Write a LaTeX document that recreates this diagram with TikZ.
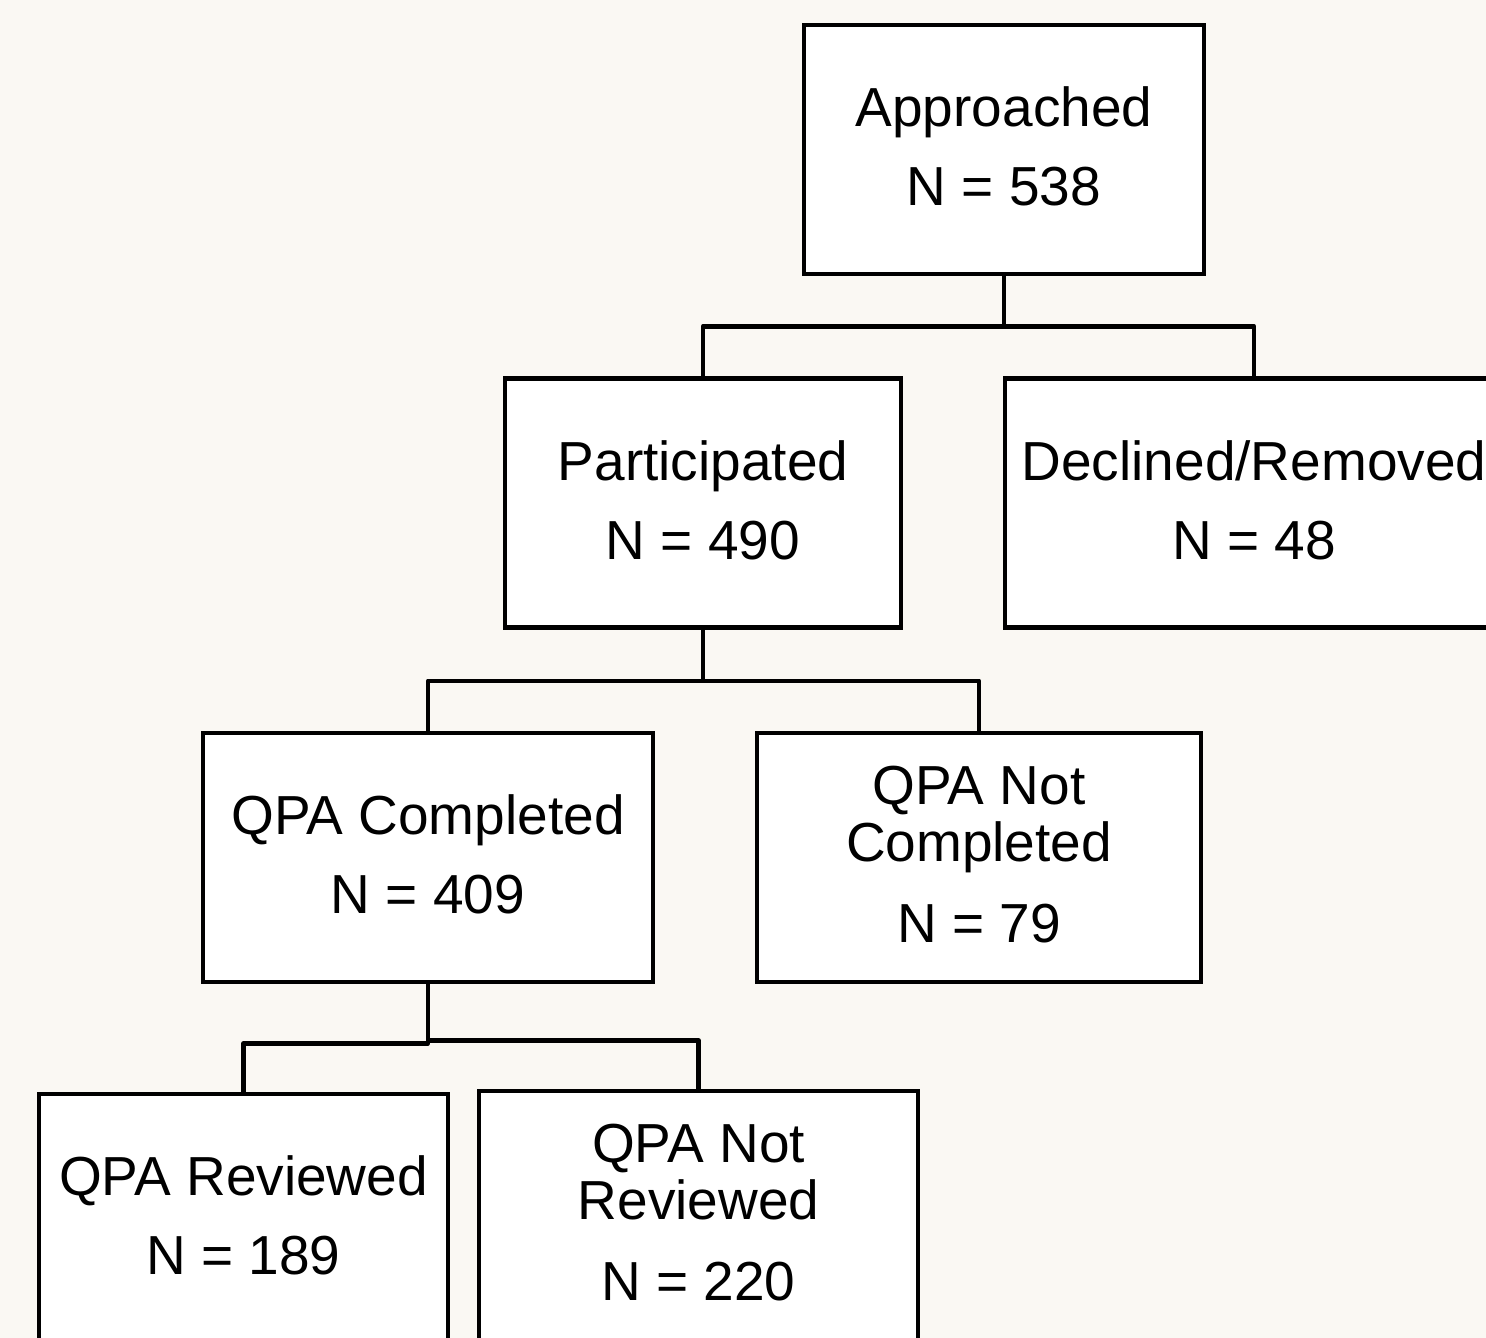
\documentclass[tikz,border=0pt]{standalone}
\usepackage{fontspec}
\setmainfont{Liberation Sans}
\definecolor{bgc}{RGB}{250,248,243}
\begin{document}
\begin{tikzpicture}[x=1pt,y=-1pt,
  box/.style={draw=black, fill=white, line width=4.5pt, inner sep=0pt,
    align=center, minimum height=249pt, text depth=6pt,
    font=\fontsize{55}{57}\selectfont},
  conn/.style={draw=black, line width=4.5pt, line join=round}]
\useasboundingbox (0,0) rectangle (1486,1338);
\clip (0,0) rectangle (1486,1338);
\fill[bgc] (0,0) rectangle (1486,1338);
% level 1
\node[box, minimum width=400pt] (app) at (1004,149.5) {Approached\\[22pt]N = 538};
% level 2
\node[box, minimum width=396pt] (par) at (703,503) {Participated\\[22pt]N = 490};
\node[box, minimum width=498pt] (dec) at (1254,503) {Declined/Removed\\[22pt]N = 48};
% level 3
\node[box, minimum width=450pt] (qc) at (428,857.5) {QPA Completed\\[22pt]N = 409};
\node[box, minimum width=444pt] (qnc) at (979,857.5) {QPA Not\\Completed\\[24pt]N = 79};
% level 4
\node[box, minimum width=409pt] (qr) at (243.5,1218.5) {QPA Reviewed\\[22pt]N = 189};
\node[box, minimum width=439pt] (qnr) at (698.5,1215.5) {QPA Not\\Reviewed\\[24pt]N = 220};
% connectors
\draw[conn] (app.south) -- ++(0,50) coordinate (j1) -| (par.north);
\draw[conn] (j1) -| (dec.north);
\draw[conn] (par.south) -- ++(0,51) coordinate (j2) -| (qc.north);
\draw[conn] (j2) -| (qnc.north);
\draw[conn] (qc.south) -- ++(0,59) coordinate (j3) -| (qr.north);
\draw[conn] (j3) ++(0,-3) coordinate (j4) -| (qnr.north);
\draw[conn] (j3) -- (j4);
\end{tikzpicture}
\end{document}
